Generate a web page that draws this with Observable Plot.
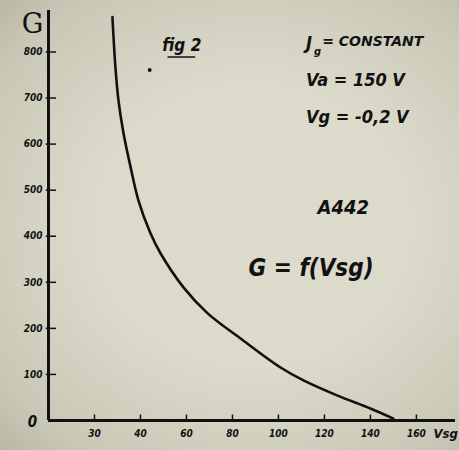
<!DOCTYPE html>
<html>
<head>
<meta charset="utf-8">
<script src="https://cdn.jsdelivr.net/npm/d3@7"></script>
<script src="https://cdn.jsdelivr.net/npm/@observablehq/plot@0.6"></script>
<style>
  html, body { margin: 0; padding: 0; width: 459px; height: 450px; overflow: hidden;
    background: radial-gradient(ellipse at 55% 50%, #dcdacb 45%, #c9c7b5 85%, #b9b7a5 100%); }
  #chart svg { display: block; }
</style>
</head>
<body>
<div id="chart"></div>
<script>
// Curve G = f(Vsg)
const vsg = [27.8, 29.1, 30.4, 32.6, 35.7, 39.1, 44.3, 48.7, 58.7, 69.1, 83.5, 100.9, 110.9, 125.7, 140, 150];
const gValues = [876, 767, 696, 624, 550, 478, 407, 363, 289, 233, 178, 115, 87, 54, 26, 4];

// Axis ticks and their hand-written labels
const xTicks = [20, 40, 60, 80, 100, 120, 140, 160];
const xTickLabels = ["30", "40", "60", "80", "100", "120", "140", "160"];
const yTicks = [100, 200, 300, 400, 500, 600, 700, 800];
const yTickLabels = ["100", "200", "300", "400", "500", "600", "700", "800"];

// Annotations
const notes = [
  {text: "fig 2", x: 49.5, y: 815, size: 17},
  {text: "Va = 150 V", x: 112, y: 739, size: 18},
  {text: "Vg = -0,2 V", x: 112, y: 659, size: 18},
  {text: "A442", x: 117, y: 463, size: 20},
  {text: "G = f(Vsg)", x: 87, y: 330, size: 24}
];

const rows = vsg.map((v, i) => ({vsg: v, g: gValues[i]}));
const hand = "DejaVu Sans Condensed, DejaVu Sans, sans-serif";

const chart = Plot.plot({
  width: 459,
  height: 450,
  marginLeft: 48,
  marginRight: 4,
  marginTop: 10,
  marginBottom: 30,
  style: {background: "transparent", fontFamily: hand, overflow: "visible"},
  x: {domain: [0, 177], axis: null},
  y: {domain: [0, 890], axis: null},
  marks: [
    Plot.ruleY([0], {stroke: "#111", strokeWidth: 3}),
    Plot.ruleX([0], {stroke: "#111", strokeWidth: 3}),
    Plot.ruleX(xTicks, {x: d => d, y1: 0, y2: 12, stroke: "#111", strokeWidth: 1.5}),
    Plot.ruleY(yTicks, {y: d => d, x1: -1, x2: 3.5, stroke: "#111", strokeWidth: 1.5}),
    Plot.text(xTicks, {x: d => d, y: 0, text: (d, i) => xTickLabels[i], dy: 13,
      fontSize: 10, fontStyle: "italic", fontWeight: "bold", fill: "#111"}),
    Plot.text(yTicks, {x: 0, y: d => d, text: (d, i) => yTickLabels[i], dx: -6, textAnchor: "end",
      fontSize: 10, fontStyle: "italic", fontWeight: "bold", fill: "#111"}),
    Plot.text([0], {x: 0, y: 0, text: () => "0", dx: -16, dy: 2,
      fontSize: 15, fontStyle: "italic", fontWeight: "bold", fill: "#111"}),
    Plot.text(["G"], {x: 0, y: 890, text: d => d, dx: -16, dy: 14,
      fontSize: 27, fontFamily: "DejaVu Serif, serif", fill: "#111"}),
    Plot.text(["Vsg"], {x: 177, y: 0, text: d => d, dx: -22, dy: 13, textAnchor: "start",
      fontSize: 13, fontStyle: "italic", fontWeight: "bold", fill: "#111"}),
    Plot.dot([0], {x: () => 44, y: () => 761, r: 2, fill: "#111"}),
    Plot.line(rows, {x: "vsg", y: "g", curve: "catmull-rom", stroke: "#111", strokeWidth: 2.6}),
    // underline of "fig 2"
    Plot.ruleY([789], {y: d => d, x1: 52, x2: 64, stroke: "#111", strokeWidth: 1.5}),
    // "Jg = CONSTANT"
    Plot.text(["J"], {x: () => 112, y: () => 818, text: d => d, textAnchor: "start",
      fontSize: 18, fontStyle: "italic", fontWeight: "bold", fill: "#111"}),
    Plot.text(["g"], {x: () => 112, y: () => 818, text: d => d, dx: 8, dy: 8, textAnchor: "start",
      fontSize: 11, fontStyle: "italic", fontWeight: "bold", fill: "#111"}),
    Plot.text(["= CONSTANT"], {x: () => 119, y: () => 823, text: d => d, textAnchor: "start",
      fontSize: 14, fontFamily: "DejaVu Sans, sans-serif", fontStyle: "italic", fontWeight: "bold", fill: "#111"}),
    Plot.text(notes, {x: "x", y: "y", text: "text", fontSize: d => d.size, textAnchor: "start",
      fontStyle: "italic", fontWeight: "bold", fill: "#111"})
  ]
});
document.getElementById("chart").appendChild(chart);
</script>
</body>
</html>
